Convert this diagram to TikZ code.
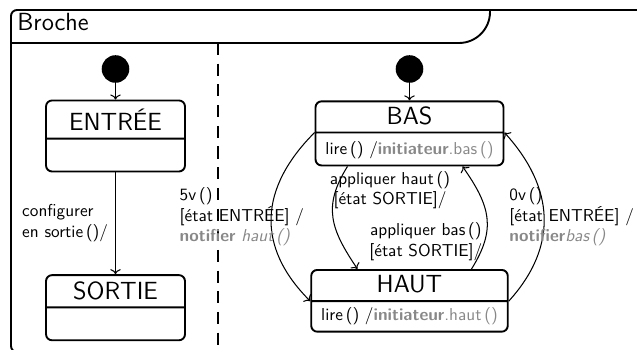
\documentclass[tikz,border=0pt]{standalone}
\usepackage{fontspec}
\usepackage{xcolor}
\usepackage{tikz}
\usetikzlibrary{arrows.meta,positioning,calc,shapes.multipart}
\definecolor{actgris}{RGB}{136,136,136}
\newcommand{\etatcale}[2]{\rule[-#2]{0pt}{#1}}

\begin{document}
\begin{tikzpicture}[
  x=0.58pt, y=-0.58pt,
  font=\sffamily,
  node distance=10pt,
  etat/.style={rectangle split,rectangle split parts=2,draw,line width=1.1pt,rounded corners=3.5pt,inner xsep=3pt,inner ysep=0pt},
  debut/.style={circle,fill,minimum size=16pt,inner sep=0pt},
  trans/.style={-{To},semithick},
  lbl/.style={inner sep=1pt,align=left},
  cadre/.style={line width=1.1pt},
]
\useasboundingbox (0,0) rectangle (637,350);
\clip (0,0) rectangle (637,350);

% frame with its tab
\draw[cadre,rounded corners=3.5pt] (11,10) rectangle (700,352);
\draw[cadre,rounded corners=18pt] (11,43) -- (490,43) -- (490,10);
\node[anchor=base west,inner sep=0pt,font=\Large\sffamily] (titre) at (17,31) {Broche};
\draw[line width=0.9pt,dash pattern=on 7pt off 5pt] (218,43) -- (218,352);

% left region
\node[debut] (initG) at (115.5,69) {};
\node[etat,minimum width=80.6pt,below=9.5pt of initG] (entree)
  {{\Large\etatcale{21pt}{4pt}ENTRÉE}\nodepart{two}\etatcale{18pt}{0pt}};
\node[etat,minimum width=80.6pt,below=59pt of entree] (sortie)
  {{\Large\etatcale{17.6pt}{4pt}SORTIE}\nodepart{two}\etatcale{18pt}{0pt}};
\draw[trans] (initG) -- (entree);
\draw[trans] (entree) -- node[lbl,left,xshift=-3pt] {configurer\\en sortie\,()/} (sortie);

% right region
\node[debut] (initD) at (409.5,69) {};
\node[etat,minimum width=109pt,below=10pt of initD] (bas)
  {{\Large\etatcale{17pt}{4pt}BAS}\nodepart{two}\etatcale{18pt}{6pt}lire\,() /\textcolor{actgris}{\textbf{initiateur}.bas\,()}};
\node[etat,minimum width=114pt,below=59.5pt of bas] (haut)
  {{\Large\etatcale{17pt}{4.4pt}HAUT}\nodepart{two}\etatcale{16.6pt}{6pt}lire\,() /\textcolor{actgris}{\textbf{initiateur}.haut\,()}};
\draw[trans] (initD) -- (bas);

\draw[trans] (bas.one split west) .. controls +(-55,55) and +(-55,-55) .. (haut.one split west)
  node[midway,lbl,xshift=-17pt] {5v\,()\\{[}état ENTRÉE] /\\\textcolor{actgris}{\textbf{notifier} \textit{haut\,()}}};
\draw[trans] (haut.one split east) .. controls +(50,-55) and +(50,55) .. (bas.one split east)
  node[midway,lbl,xshift=16pt] {0v\,()\\{[}état ENTRÉE] /\\\textcolor{actgris}{\textbf{notifier}\textit{bas\,()}}};
\draw[trans] ($(bas.south)+(-62,0)$) .. controls +(-25,40) and +(-27,-40) .. ($(haut.north)+(-52,0)$)
  node[pos=0.2,lbl,align=center,anchor=west,xshift=-5pt,yshift=-1pt] {appliquer haut\,()\\{[}état SORTIE]/};
\draw[trans] ($(haut.north)+(62,0)$) .. controls +(25,-40) and +(28,40) .. ($(bas.south)+(53,0)$)
  node[pos=0.25,lbl,align=center,anchor=east] {appliquer bas\,()\\{[}état SORTIE]/};
\end{tikzpicture}
\end{document}
